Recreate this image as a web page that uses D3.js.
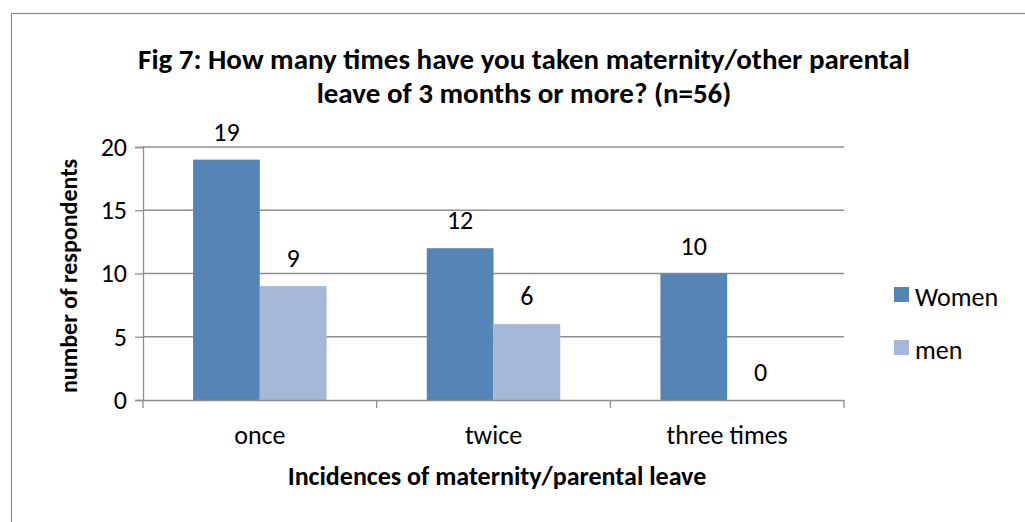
<!DOCTYPE html>
<html>
<head>
<meta charset="utf-8">
<script src="https://cdn.jsdelivr.net/npm/d3@7"></script>
<style>
  body { margin: 0; background: #fff; }
  text { font-family: Carlito, Calibri, Lato, sans-serif; fill: #000; }
</style>
</head>
<body>
<div id="chart"></div>
<script>
// chart data
const categories = ["once", "twice", "three times"];
const seriesNames = ["Women", "men"];
const women = [19, 12, 10];
const men = [9, 6, 0];
const yTicks = [0, 5, 10, 15, 20];
const titleLines = ["Fig 7: How many times have you taken maternity/other parental",
                    "leave of 3 months or more? (n=56)"];
const xTitle = "Incidences of maternity/parental leave";
const yTitle = "number of respondents";

let width = 1025, height = 522;
let colors = ['#5585b5', '#a5b8d8'],
    gridColor = '#8f8f8f';
let fontSize = 26;

let svg = d3.select('#chart').append('svg')
    .attr('width', width)
    .attr('height', height);

// outer chart border
svg.append('rect')
    .attr('x', 11.5).attr('y', 13.5)
    .attr('width', 1030).attr('height', 520)
    .attr('fill', 'none')
    .attr('stroke', '#8a8a8a')
    .attr('stroke-width', 1.2);

let plot = {left: 143, right: 844, top: 147, bottom: 400};

let y = d3.scaleLinear().domain([0, 20]).range([plot.bottom, plot.top]);
let x0 = d3.scaleBand().domain(categories).range([plot.left, plot.right]).padding(0);
let x1 = d3.scaleBand().domain(seriesNames).range([0, x0.bandwidth()])
    .paddingInner(0).paddingOuter(0.75);

// gridlines
svg.append('g')
    .selectAll('line')
    .data(yTicks.filter(d => d > 0))
    .enter().append('line')
    .attr('x1', plot.left).attr('x2', plot.right)
    .attr('y1', d => y(d)).attr('y2', d => y(d))
    .attr('stroke', gridColor)
    .attr('stroke-width', 1.3);

// y axis
let yAxis = svg.append('g')
    .attr('transform', 'translate(' + plot.left + ',0)')
    .call(d3.axisLeft(y).tickValues(yTicks).tickSize(8).tickPadding(8));
yAxis.select('.domain').attr('stroke', gridColor).attr('stroke-width', 1.3);
yAxis.selectAll('.tick line').attr('stroke', gridColor).attr('stroke-width', 1.3);
yAxis.selectAll('.tick text')
    .attr('font-size', fontSize)
    .attr('font-family', null)
    .attr('fill', '#000');

// bars
let rows = categories.map((c, i) => ({cat: c, vals: [women[i], men[i]]}));
let groups = svg.append('g').selectAll('g')
    .data(rows)
    .enter().append('g')
    .attr('transform', d => 'translate(' + x0(d.cat) + ',0)');

groups.selectAll('rect')
    .data(d => d.vals.map((v, j) => ({name: seriesNames[j], value: v})))
    .enter().append('rect')
    .attr('x', d => x1(d.name))
    .attr('y', d => y(d.value))
    .attr('width', x1.bandwidth())
    .attr('height', d => plot.bottom - y(d.value))
    .attr('fill', (d, j) => colors[j]);

groups.selectAll('text.lbl')
    .data(d => d.vals.map((v, j) => ({name: seriesNames[j], value: v})))
    .enter().append('text')
    .attr('class', 'lbl')
    .attr('x', d => x1(d.name) + x1.bandwidth() / 2)
    .attr('y', d => y(d.value) - 19)
    .attr('text-anchor', 'middle')
    .attr('font-size', fontSize)
    .text(d => d.value);

// x axis
let xAxis = svg.append('g')
    .attr('transform', 'translate(0,' + plot.bottom + ')')
    .call(d3.axisBottom(x0).tickSize(0).tickPadding(0));
xAxis.select('.domain').attr('stroke', gridColor).attr('stroke-width', 1.3);
xAxis.selectAll('.tick text')
    .attr('font-size', fontSize)
    .attr('font-family', null)
    .attr('fill', '#000')
    .attr('dy', null)
    .attr('y', 44);
// category boundary ticks
xAxis.selectAll('line.sep')
    .data(categories.map(c => x0(c)).concat([plot.right]))
    .enter().append('line')
    .attr('class', 'sep')
    .attr('x1', d => d).attr('x2', d => d)
    .attr('y1', 0).attr('y2', 8)
    .attr('stroke', gridColor)
    .attr('stroke-width', 1.3);

// titles
svg.append('g').selectAll('text')
    .data(titleLines)
    .enter().append('text')
    .attr('x', 524)
    .attr('y', (d, i) => 69 + i * 34)
    .attr('text-anchor', 'middle')
    .attr('font-size', 29)
    .attr('font-weight', 'bold')
    .text(d => d);

svg.append('text')
    .attr('x', 497).attr('y', 485)
    .attr('text-anchor', 'middle')
    .attr('font-size', 26)
    .attr('font-weight', 'bold')
    .text(xTitle);

svg.append('text')
    .attr('transform', 'translate(77,276) rotate(-90)')
    .attr('text-anchor', 'middle')
    .attr('font-size', 24)
    .attr('font-weight', 'bold')
    .text(yTitle);

// legend
let legend = svg.append('g').selectAll('g')
    .data(seriesNames)
    .enter().append('g')
    .attr('transform', (d, i) => 'translate(894,' + (287 + i * 53) + ')');
legend.append('rect')
    .attr('width', 15).attr('height', 15)
    .attr('fill', (d, i) => colors[i]);
legend.append('text')
    .attr('x', 21).attr('y', 19)
    .attr('font-size', fontSize)
    .text(d => d);
</script>
</body>
</html>
